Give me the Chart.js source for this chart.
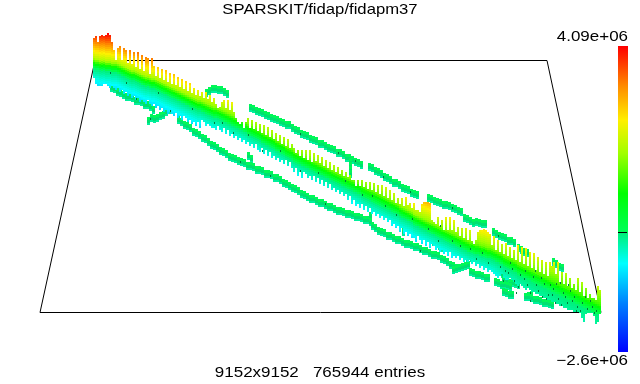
<!DOCTYPE html>
<html><head><meta charset="utf-8">
<style>html,body{margin:0;padding:0;background:#fff}canvas{display:block}</style>
<script src="https://cdn.jsdelivr.net/npm/chart.js@4"></script></head>
<body><canvas id="c" width="640" height="384"></canvas>
<script>
const titleText = "SPARSKIT/fidap/fidapm37";
const footerText = "9152x9152   765944 entries";
const maxLabel = "4.09e+06";
const minLabel = "\u22122.6e+06";

const frameEdge = [[95,60.5],[547,60.5],[601,312.5],[40,312.5],[95,60.5]];

const firstColumn = 94;
const columnStep = 2;
const bandTop = [
38,36,42,36,35,36,35,33,35,42,
50,60,48,46,60,48,50,63,50,64,
52,67,52,69,55,71,57,58,74,58,
66,76,67,78,69,80,70,82,73,84,
74,85,77,87,79,89,81,91,83,93,
88,95,90,96,92,98,92,99,95,102,
98,104,108,107,102,100,108,100,110,102,
112,118,122,124,122,128,122,118,128,120,
129,122,131,124,133,125,135,127,137,130,
139,133,141,135,144,137,146,139,148,144,
148,153,150,156,150,158,150,160,150,162,
153,161,155,163,157,166,160,168,162,170,
165,172,167,174,170,176,172,177,175,180,
180,186,180,186,180,187,182,189,182,190,
183,192,185,194,185,196,187,198,190,200,
193,203,198,204,198,206,197,205,203,208,
203,210,210,212,204,202,202,202,203,220,
222,224,217,226,220,230,217,230,217,230,
220,232,227,236,228,238,228,240,230,241,
244,240,232,230,230,229,230,232,234,245,
236,250,240,252,244,254,243,256,247,258,
250,260,245,262,247,264,248,266,252,268,
253,270,257,272,260,274,262,276,262,266,
262,274,262,282,272,284,273,286,278,288,
284,290,278,292,282,296,288,298,294,298,
298,300,286,290];
const bandBase = [
64,65,65,66,66,66,67,67,67,68,
68,68,69,70,71,72,73,74,75,76,
76,77,78,79,80,81,82,82,83,84,
84,85,86,87,88,89,90,91,92,93,
94,95,96,97,98,99,100,101,102,103,
104,105,106,106,107,108,109,110,111,112,
113,113,114,115,116,117,118,119,120,121,
122,123,124,125,126,127,128,130,131,132,
133,134,135,136,138,139,140,141,142,143,
144,146,147,148,149,150,152,153,154,155,
157,158,159,160,161,162,163,164,165,166,
167,168,169,170,171,172,173,174,175,176,
177,178,179,180,181,182,183,184,185,186,
187,188,189,190,192,193,194,195,196,197,
198,199,200,201,202,203,204,205,206,207,
208,209,210,212,213,214,215,216,217,218,
220,221,222,223,224,225,226,227,228,229,
230,231,232,233,234,235,236,237,238,239,
240,241,242,243,244,245,246,247,248,248,
249,250,250,251,252,252,253,254,254,255,
256,257,258,259,260,262,263,264,265,266,
267,268,270,271,272,273,274,275,276,277,
278,279,280,281,282,283,284,285,286,287,
288,289,290,291,292,293,294,295,296,297,
298,299,300,301,302,303,304,305,306,307,
308,309,310,311];
const bandBottom = [
78,84,86,86,86,84,84,86,88,86,
88,90,88,92,90,94,92,96,94,98,
96,100,98,102,100,102,104,100,104,106,
104,108,106,110,108,112,110,114,112,114,
116,113,118,116,120,116,118,122,120,124,
122,126,122,128,120,122,126,124,126,128,
128,130,126,130,132,128,134,130,136,134,
138,136,140,138,142,140,144,142,146,144,
148,144,150,152,148,154,150,156,152,158,
156,160,158,162,160,164,160,166,162,168,
172,168,176,172,178,172,174,178,176,180,
176,182,178,184,180,186,182,188,184,190,
188,192,190,194,192,196,194,200,196,204,
200,206,204,208,204,210,206,212,208,214,
212,216,214,218,216,220,218,222,220,226,
224,228,226,232,228,234,232,236,234,238,
238,242,236,240,244,240,246,242,248,244,
246,250,248,252,250,254,252,256,252,258,
256,258,256,260,258,262,260,262,260,264,
262,266,264,268,266,270,268,272,270,272,
274,276,278,276,274,278,280,280,278,280,
282,284,286,284,286,288,290,288,290,292,
292,294,294,296,296,298,298,300,300,302,
302,304,304,306,306,308,308,310,310,310,
312,312,312,313,318,322,314,313,313,313,
316,324,322,314];

const stripStep = 3;
const stripStarts = [206,250,292,369,428,464,493,518,553,111,148,178,372,453,470,433,495,503,528,493,503,525];
const stripA = [93,91,89,89,90,90,92,94];
const stripB = [108,109,111,112,113,115,116,118,119,120,122,123,125,125];
const stripC = [128,130,131,134,135,136,139,140,141,144,144,146,148,149,150,153,153,155,158,158,160,162,163,165];
const stripE = [167,168,171,172,174,177,178,180,183,183,185,188,189,190,193,194,195];
const stripF = [198,199,201,202,203,205,205,206,208,209,211,212];
const stripG = [218,219,221,223,222,223,224,224];
const stripH = [232,234,236,237,238,241,241,243];
const stripI = [248,250,252,253];
const stripJ = [262,264,267,268];
const stripL = [88,89,92,93,95,97,97,98,101,101,102,105,105,107,110];
const stripM = [121,118,119,118,116,115,112,110,109,106,105];
const stripN = [120,122,125,126,128,132,133,135,138,139,142,145,146,148,151,152,154,157,158,159,161,162,163,166,166,167,170,170,171,174,174,175,178,178,180,183,184,186,188,189,191,194,195,197,199,199,201,203,203,205,207,207,209,211,211,212,214,214,215,217,217,218,220,220];
const stripQ = [226,228,231,232,233,236,236,238,240,240,242,244,244,245,247,247,249,251,251,253,255,255,256,259,260,262,265,266,268];
const stripS = [270,269,268,267,266,265];
const stripT = [272,273,275,275,276,278,278];
const stripU = [242,244,246,248];
const stripV = [282,283,285,285,286,287];
const stripW = [292,293,295,295];
const stripX = [297,298,300,300,301,303,303,304,305];
const stripY = [268,270,272,274,276];
const stripZ = [280,281,283,283,284,285];
const stripAA = [297,296,295];
const allStrips = [stripA,stripB,stripC,stripE,stripF,stripG,stripH,stripI,stripJ,stripL,stripM,stripN,stripQ,stripS,stripT,stripU,stripV,stripW,stripX,stripY,stripZ,stripAA];

const blobX = [350,350,350,350,248,251,370,370,400,404,408,403,467,471,475];
const blobY = [162,166,170,174,156,159,216,222,223,225,228,232,258,258,258];

const darkX = [136,170,214,233,262,300,345,372,385,412,438,452,470,488,500,508,514,520,527,533,538,544,548,553,558,563,567,572,577,582,587,592,596,510,525,541,556,570,585,530,546,561,576,300,338,355,383,410,452,240,270,325,420,150,498,460,440,503,512,518,524,530,536,542,550,555,560,565,574,580,590,594,505,516,535,552,568,110,126,158,192,222,248,280,318,362,396,428,476,482];
const darkY = [98,110,122,132,150,170,180,195,205,218,240,240,248,262,266,272,280,274,284,276,290,283,294,288,298,292,302,300,306,302,308,306,310,262,270,277,283,290,296,292,298,304,310,133,152,160,176,191,207,161,175,203,250,118,235,245,225,280,268,286,278,300,284,296,284,302,282,296,296,310,300,312,270,292,270,294,284,72,82,92,108,122,134,150,172,194,214,228,258,252];

const rampAt = [46,86,120,153,193,232,233,263,303,352];
const rampR  = [255,255,255,160,0,0,0,0,0,0];
const rampG  = [0,140,240,255,255,255,240,255,128,0];
const rampB  = [0,0,0,0,0,90,120,255,255,255];

const colorShift = 4;
const gainAt = [94,134,174,214,254,294,334,374,414,454,494,534,574,600];
const gainUp = [6.2,6,5.8,5.3,4.8,4.8,5,4.4,5.5,4.8,4.8,4.2,3.8,3.8];
const gainDown = [2.4,2.4,2.4,2.4,2.4,2.4,2.4,2.4,2.4,2.4,2,1,0.9,0.9];

function lerpTable(xs, ys, v){
  if(v<=xs[0]) return ys[0];
  for(let i=1;i<xs.length;i++){ if(v<=xs[i]){const t=(v-xs[i-1])/(xs[i]-xs[i-1]);return ys[i-1]+t*(ys[i]-ys[i-1]);} }
  return ys[ys.length-1];
}
function rampColor(p){
  return `rgb(${Math.round(lerpTable(rampAt,rampR,p))},${Math.round(lerpTable(rampAt,rampG,p))},${Math.round(lerpTable(rampAt,rampB,p))})`;
}

const bandBars=[], bandColors=[];
bandTop.forEach((top,i)=>{
  const x=firstColumn+i*columnStep, base=bandBase[i]+colorShift, bot=bandBottom[i];
  for(let y=top;y<bot;y+=2){
    const d=base-(y+1);
    const lifted=d<10?d*1.4:14+(d-10)*0.6;
    const p=d>=0?232-lifted*lerpTable(gainAt,gainUp,x):232-d*lerpTable(gainAt,gainDown,x);
    bandBars.push({x,y:[y,Math.min(y+2,bot)]});
    bandColors.push(rampColor(p));
  }
});
const rampBars=[], rampColors=[];
for(let y=46;y<352;y++){ rampBars.push({x:623,y:[y,y+1]}); rampColors.push(rampColor(y)); }
const toXY=a=>a.map(p=>({x:p[0],y:p[1]}));

const stripTopBars=[], stripMidBars=[], stripLowBars=[];
function addStripBlock(x,y){
  stripTopBars.push({x:x+0.5,y:[y-4,y-1]});
  stripMidBars.push({x:x+0.5,y:[y-1,y+2]});
  stripLowBars.push({x:x+0.5,y:[y+2,y+4]});
}
allStrips.forEach((ys,k)=>ys.forEach((y,i)=>addStripBlock(stripStarts[k]+i*stripStep,y)));
blobX.forEach((x,i)=>addStripBlock(x,blobY[i]));

const barStyle={type:'bar',inflateAmount:0,borderWidth:0};
const datasets=[
 {type:'line',data:toXY(frameEdge),borderColor:'#000',borderWidth:1,pointRadius:0,order:20,tension:0},
 {type:'line',data:[{x:618,y:232.5},{x:627,y:232.5}],borderColor:'#000',borderWidth:1,pointRadius:0,order:0,tension:0},
 {...barStyle,data:rampBars,backgroundColor:rampColors,barThickness:10,order:2},
 {...barStyle,data:bandBars,backgroundColor:bandColors,barThickness:2,order:5},
 {...barStyle,data:stripTopBars,backgroundColor:'#00f858',barThickness:3,order:11},
 {...barStyle,data:stripMidBars,backgroundColor:'#00e070',barThickness:3,order:12},
 {...barStyle,data:stripLowBars,backgroundColor:'#00f09c',barThickness:3,order:13},
 {...barStyle,data:darkX.map((x,i)=>({x:x+0.5,y:[darkY[i],darkY[i]+2]})),backgroundColor:'#007a3a',barThickness:1,order:1}
];

function wideText(c,text,x,y,sx,align){
  c.save(); c.textAlign=align; c.translate(x,y); c.scale(sx,1); c.fillText(text,0,0); c.restore();
}
const labels={id:'labels',afterDraw(ch){
  const c=ch.ctx; c.save(); c.fillStyle='#000'; c.font='14.5px "Liberation Sans"'; c.textBaseline='alphabetic';
  wideText(c,titleText,320,14,1.15,'center');
  wideText(c,footerText,320,377,1.17,'center');
  wideText(c,maxLabel,628,41,1.17,'right');
  wideText(c,minLabel,628,365,1.17,'right');
  c.restore();
}};
new Chart(document.getElementById('c'),{type:'bar',data:{datasets},plugins:[labels],options:{
  responsive:false,animation:false,layout:{padding:0},
  datasets:{bar:{grouped:false}},
  plugins:{legend:{display:false},tooltip:{enabled:false},title:{display:false}},
  scales:{x:{type:'linear',min:0,max:640,display:false,offset:false},y:{type:'linear',min:0,max:384,reverse:true,display:false}}
}});
</script></body></html>
